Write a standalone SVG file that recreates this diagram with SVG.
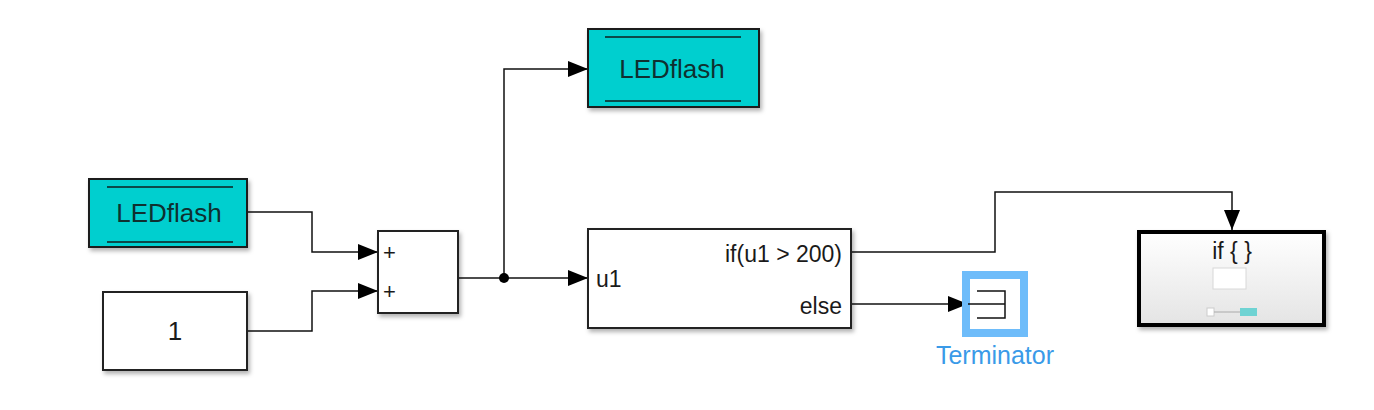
<svg xmlns="http://www.w3.org/2000/svg" width="1374" height="410" viewBox="0 0 1374 410">
<defs>
<style>
.blk{fill:#fff;stroke:#222;stroke-width:2}
.led{fill:#00cfcf;stroke:#1a1a1a;stroke-width:2}
.bar{stroke:#0b4a4a;stroke-width:2}
.t{font-family:"Liberation Sans",Arial,sans-serif;fill:#1a1a1a}
.ledt{font-family:"Liberation Sans",Arial,sans-serif;fill:#0f3030;font-size:26px;text-anchor:middle}
.w{fill:none;stroke:#111;stroke-width:1.5}
</style>
<marker id="arr" markerWidth="20" markerHeight="16" refX="20" refY="8" orient="auto" markerUnits="userSpaceOnUse">
<path d="M0,0 L20,8 L0,16 Z" fill="#000"/>
</marker>
<filter id="sh" x="-10%" y="-10%" width="125%" height="130%">
<feDropShadow dx="2" dy="3" stdDeviation="2" flood-color="#000" flood-opacity="0.3"/>
</filter>
<linearGradient id="gr" x1="0" y1="0" x2="0" y2="1">
<stop offset="0" stop-color="#ffffff"/>
<stop offset="1" stop-color="#e4e4e4"/>
</linearGradient>
</defs>
<rect width="1374" height="410" fill="#fff"/>
<g id="connectors">
<path class="w" d="M247,212 H312 V252 H378" marker-end="url(#arr)"/>
<path class="w" d="M247,331 H312 V291 H378" marker-end="url(#arr)"/>
<path class="w" d="M458,278 H588" marker-end="url(#arr)"/>
<path class="w" d="M504,278 V69 H588" marker-end="url(#arr)"/>
<circle cx="504" cy="278" r="5" fill="#000"/>
<path class="w" d="M851,252 H995 V192 H1232 V230" marker-end="url(#arr)"/>
<path class="w" d="M851,304 H968" marker-end="url(#arr)"/>
</g>
<g id="ledflash1">
<rect class="led" x="89" y="179" width="158" height="68" filter="url(#sh)"/>
<line class="bar" x1="107" y1="187" x2="233" y2="187"/>
<line class="bar" x1="107" y1="242" x2="233" y2="242"/>
<text class="ledt" x="169" y="222">LEDflash</text>
</g>
<g id="constant">
<rect class="blk" x="103" y="292" width="144" height="78" filter="url(#sh)"/>
<text class="t" x="175" y="340" font-size="26" text-anchor="middle">1</text>
</g>
<g id="sum">
<rect class="blk" x="378" y="231" width="80" height="82" filter="url(#sh)"/>
<text class="t" x="383" y="260" font-size="22">+</text>
<text class="t" x="383" y="299" font-size="22">+</text>
</g>
<g id="ledflash2">
<rect class="led" x="588" y="29" width="171" height="78" filter="url(#sh)"/>
<line class="bar" x1="605" y1="37" x2="741" y2="37"/>
<line class="bar" x1="605" y1="101" x2="741" y2="101"/>
<text class="ledt" x="672" y="78">LEDflash</text>
</g>
<g id="if">
<rect class="blk" x="588" y="229" width="263" height="99" filter="url(#sh)"/>
<text class="t" x="596" y="287" font-size="23">u1</text>
<text class="t" x="842" y="262" font-size="23" text-anchor="end">if(u1 &gt; 200)</text>
<text class="t" x="842" y="314" font-size="23" text-anchor="end">else</text>
</g>
<g id="terminator">
<rect x="966" y="275" width="58" height="58" fill="#fff" stroke="#6ebcfa" stroke-width="8"/>
<path d="M977,291 H1005 V318 H977 M968,304 H1005" fill="none" stroke="#111" stroke-width="1.5"/>
<text x="995" y="364" font-family="Liberation Sans,Arial,sans-serif" font-size="25" fill="#3a9ae8" text-anchor="middle">Terminator</text>
</g>
<g id="ifaction">
<rect x="1139" y="232" width="185" height="93" fill="url(#gr)" stroke="#000" stroke-width="4" filter="url(#sh)"/>
<text class="t" x="1232" y="259" font-size="23" text-anchor="middle">if { }</text>
<rect x="1213" y="268" width="33" height="21" fill="#fff" stroke="#d8d8d8" stroke-width="1"/>
<rect x="1207" y="308" width="7" height="8" fill="#fff" stroke="#ccc" stroke-width="1"/>
<line x1="1214" y1="312" x2="1240" y2="312" stroke="#aaa" stroke-width="1"/>
<rect x="1240" y="308" width="17" height="8" fill="#6fd3d3"/>
</g>
</svg>
